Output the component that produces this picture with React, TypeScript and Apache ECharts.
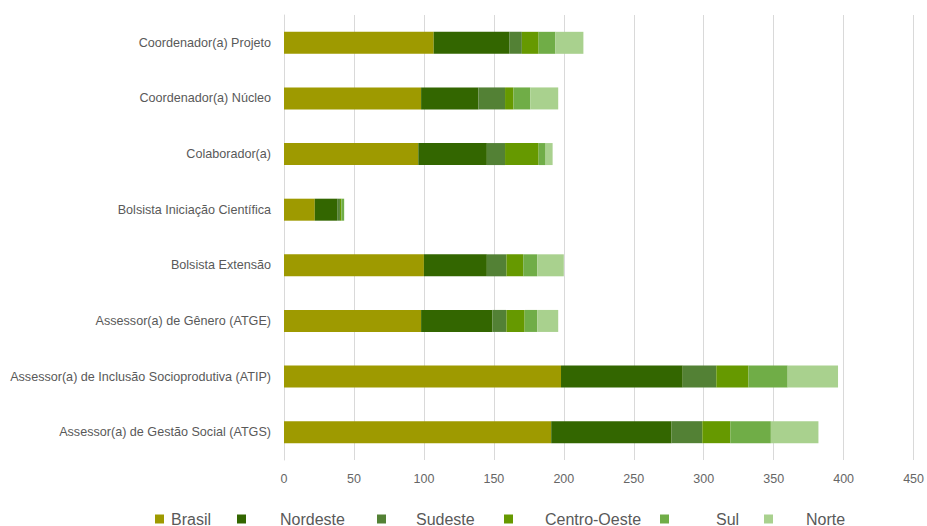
import React, { useEffect, useRef } from "react";
import * as echarts from "echarts";

const categories = [
  "Coordenador(a) Projeto",
  "Coordenador(a) Núcleo",
  "Colaborador(a)",
  "Bolsista Iniciação Científica",
  "Bolsista Extensão",
  "Assessor(a) de Gênero (ATGE)",
  "Assessor(a) de Inclusão Socioprodutiva (ATIP)",
  "Assessor(a) de Gestão Social (ATGS)",
];

const seriesNames = ["Brasil", "Nordeste", "Sudeste", "Centro-Oeste", "Sul", "Norte"];

const brasil = [107, 98, 96, 22, 100, 98, 198, 191];
const nordeste = [54, 41, 49, 16, 45, 51, 87, 86];
const sudeste = [9, 19, 13, 2, 14, 10, 24, 22];
const centroOeste = [12, 6, 24, 1, 12, 13, 23, 20];
const sul = [12, 12, 5, 2, 10, 9, 28, 29];
const norte = [20, 20, 5, 0, 19, 15, 36, 34];

const seriesValues = [brasil, nordeste, sudeste, centroOeste, sul, norte];
const colors = ["#9E9A00", "#336600", "#538135", "#669900", "#70AD47", "#A9D18E"];

const xTicks = { min: 0, max: 450, interval: 50 };

const legendLeft = [155, 237, 377, 504, 660, 764];
const legendTextPad = [2, 29, 25, 27, 42, 28];

const FONT = "'Liberation Sans', Arial, sans-serif";

export default function App() {
  const ref = useRef<HTMLDivElement>(null);
  useEffect(() => {
    if (!ref.current) return;
    const chart = echarts.init(ref.current, undefined, { renderer: "svg" });
    chart.setOption({
      animation: false,
      backgroundColor: "#ffffff",
      grid: { left: 284, right: 12, top: 15, bottom: 66, containLabel: false },
      xAxis: {
        type: "value",
        min: xTicks.min,
        max: xTicks.max,
        interval: xTicks.interval,
        axisLine: { show: false },
        axisTick: { show: false },
        splitLine: { show: true, lineStyle: { color: "#D9D9D9", width: 1 } },
        axisLabel: { color: "#666666", fontSize: 12.5, fontFamily: FONT, margin: 12 },
      },
      yAxis: {
        type: "category",
        data: categories,
        inverse: true,
        axisLine: { show: true, lineStyle: { color: "#D9D9D9" } },
        axisTick: { show: false },
        axisLabel: { color: "#595959", fontSize: 12.6, fontFamily: FONT, margin: 13 },
      },
      legend: seriesNames.map((n, i) => ({
        data: [n],
        left: legendLeft[i],
        top: 511,
        itemWidth: 9,
        itemHeight: 9,
        icon: "rect",
        padding: 0,
        textStyle: {
          color: "#595959",
          fontSize: 16,
          fontFamily: FONT,
          padding: [0, 0, 0, legendTextPad[i]],
        },
      })),
      series: seriesNames.map((n, i) => ({
        name: n,
        type: "bar",
        stack: "total",
        data: seriesValues[i],
        barWidth: 22,
        itemStyle: { color: colors[i] },
        emphasis: { disabled: true },
      })),
    });
    return () => chart.dispose();
  }, []);
  return <div ref={ref} style={{ width: 927, height: 526, position: "absolute", left: 0, top: 0 }} />;
}
